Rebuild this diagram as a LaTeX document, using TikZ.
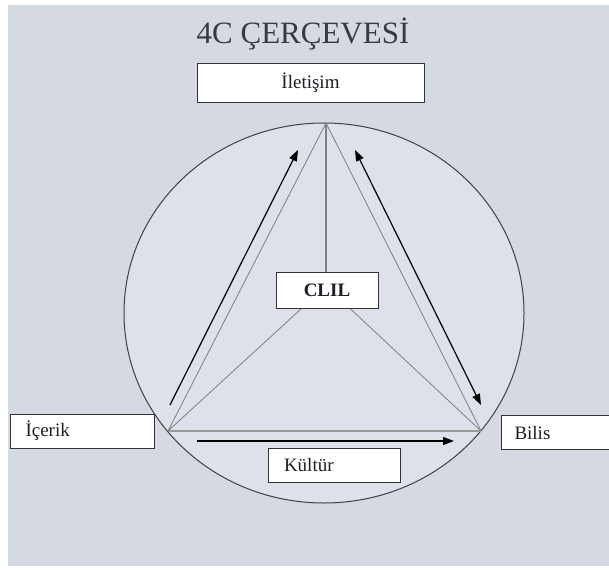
\documentclass[tikz,border=0pt]{standalone}
\usepackage{fontspec}
\setmainfont{Liberation Serif}
\usetikzlibrary{arrows.meta}
\definecolor{panel}{HTML}{D5D9E2}
\definecolor{inner}{HTML}{DEE1E9}
\definecolor{edgegray}{HTML}{7F7F7F}
\definecolor{txt}{HTML}{1E1E28}
\definecolor{titlecol}{HTML}{3A3A3A}
\tikzset{
  lbox/.style={draw=black!80,fill=white,line width=0.9pt,minimum height=34pt,inner ysep=0pt,text=txt,font=\fontsize{19}{22}\selectfont},
  tri/.style={draw=edgegray,line width=0.8pt},
  arr/.style={draw=black,line width=1.2pt,-{Triangle[length=11pt,width=8pt]}},
  darr/.style={draw=black,line width=1.2pt,{Triangle[length=11pt,width=8pt]}-{Triangle[length=11pt,width=8pt]}}
}
\begin{document}
\begin{tikzpicture}[x=1pt,y=-1pt]
\useasboundingbox (0,0) rectangle (609,569);
\fill[white] (0,0) rectangle (609,569);
\fill[panel] (8,5) rectangle (609,566);
% circle
\filldraw[fill=inner,draw=black!75,line width=1pt] (324,313) ellipse [x radius=200,y radius=190];
% key points
\coordinate (A) at (326,123);
\coordinate (L) at (168,431);
\coordinate (R) at (481,431);
\coordinate (O) at (326,286);
% triangle
\draw[tri] (L) -- (A) -- (R);
\draw[draw=edgegray!80,line width=1.8pt] (L) -- (R);
\draw[tri] (O) -- (L);
\draw[tri] (O) -- (R);
\draw[draw=edgegray,line width=1.6pt] (O) -- (A);
% arrows
\coordinate (a1s) at (170,405);
\coordinate (a1e) at (298,150);
\coordinate (a2s) at (355,150);
\coordinate (a2e) at (481,405);
\coordinate (a3s) at (197,441);
\coordinate (a3e) at (454,441);
\draw[arr] (a1s) -- (a1e);
\draw[darr] (a2s) -- (a2e);
\draw[arr] (a3s) -- (a3e);
% title
\node[text=titlecol,font=\fontsize{31}{36}\selectfont,anchor=base] (title) at (303,44) {4C ÇERÇEVESİ};
% boxes
\node[lbox,minimum width=227pt,minimum height=39pt] (ilet) at (310.5,82.5) {İletişim};
\node[lbox,minimum width=102pt,minimum height=36pt,font=\bfseries\fontsize{19}{22}\selectfont] (clil) at (327,290) {CLIL};
\node[lbox,text width=114pt,align=left,inner xsep=15pt,minimum width=129pt] (icerik) at (82.5,431) {İçerik};
\node[lbox,text width=84pt,align=left,inner xsep=13pt,minimum width=97pt] (bilis) at (556.5,432.5) {Bilis};
\node[lbox,text width=100pt,align=left,inner xsep=16pt,minimum width=116pt] (kultur) at (334,465) {Kültür};
\end{tikzpicture}
\end{document}
